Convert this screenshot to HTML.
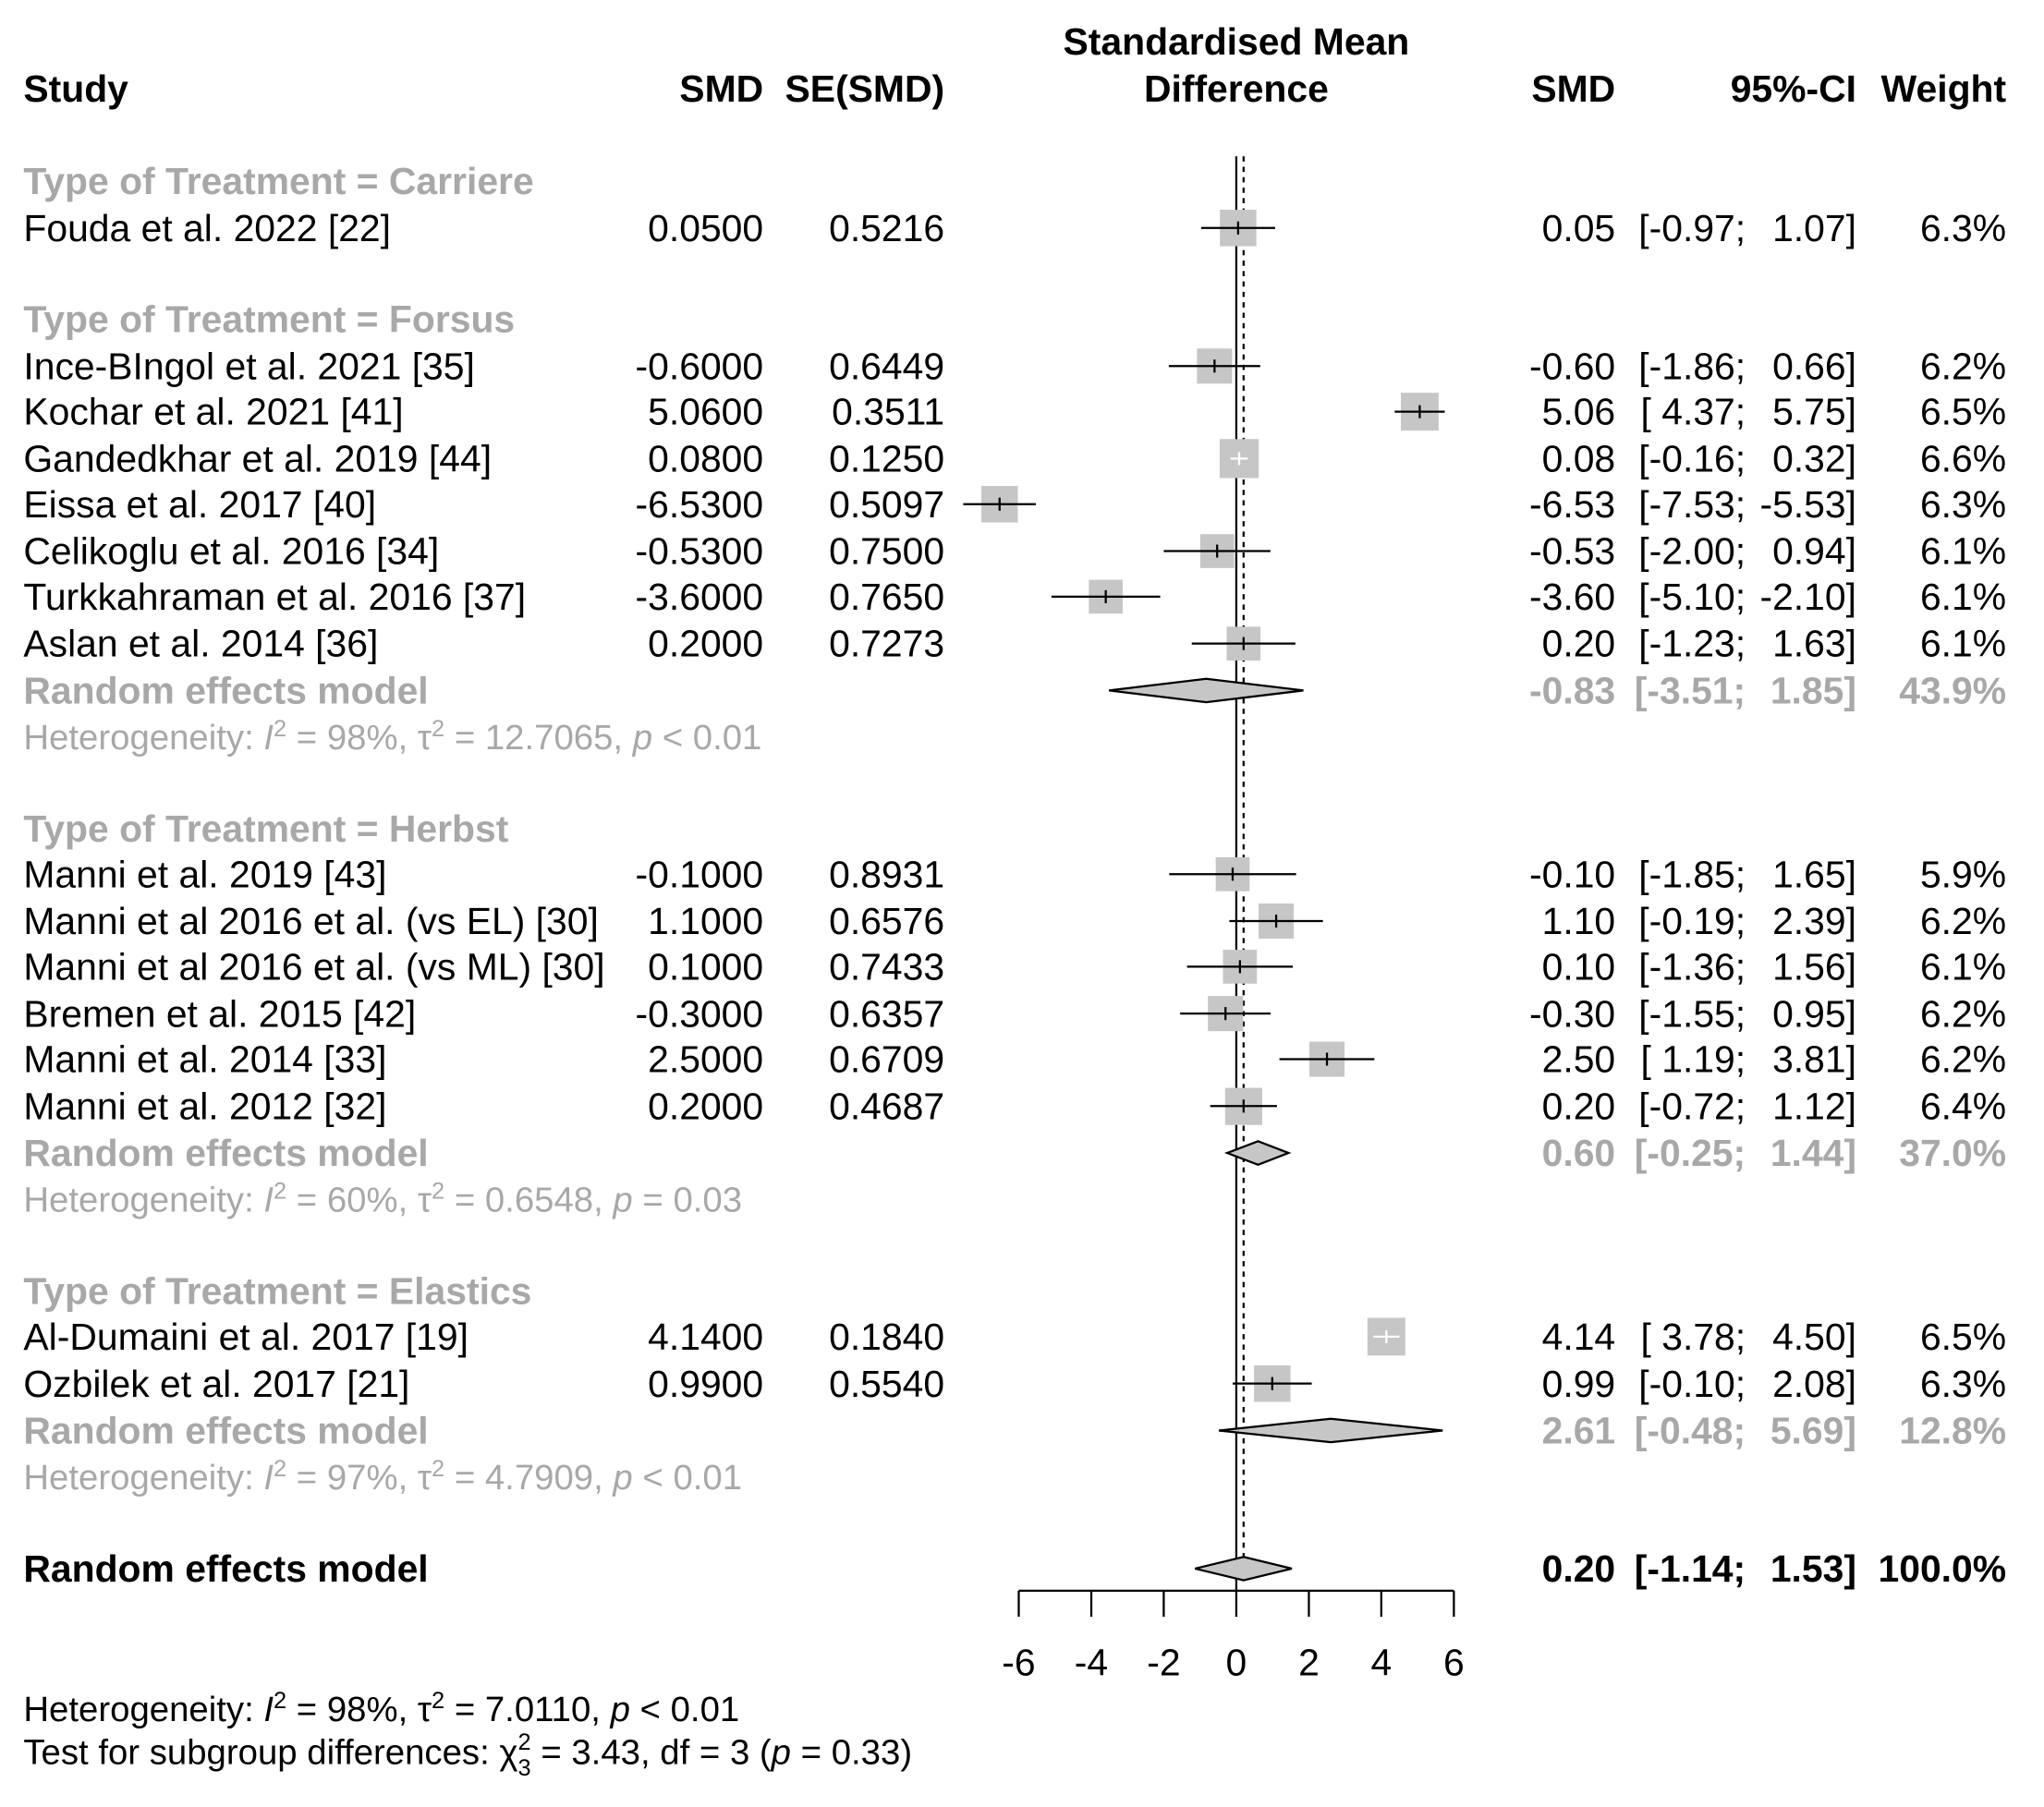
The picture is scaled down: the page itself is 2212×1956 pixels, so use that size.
<!DOCTYPE html>
<html><head><meta charset="utf-8"><style>
html,body{margin:0;padding:0;background:#fff;}
svg{display:block;}
text{font-family:"Liberation Sans",Arial,sans-serif;font-size:29px;fill:#000;}
.b{font-weight:bold;}
.g{fill:#a8a8a8;}
.r{text-anchor:end;}
.m{text-anchor:middle;}
.h{font-size:27.2px;}
</style></head><body>
<svg width="2212" height="1956" viewBox="0 0 1569 1387" preserveAspectRatio="none" xmlns="http://www.w3.org/2000/svg">
<!-- headers -->
<text class="b m" x="949" y="42">Standardised Mean</text>
<text class="b m" x="949" y="78">Difference</text>
<text class="b" x="18" y="78">Study</text>
<text class="b r" x="586" y="78">SMD</text>
<text class="b r" x="725" y="78">SE(SMD)</text>
<text class="b r" x="1240" y="78">SMD</text>
<text class="b r" x="1425" y="78">95%-CI</text>
<text class="b r" x="1540" y="78">Weight</text>

<line x1="949" y1="120" x2="949" y2="1221" stroke="#000" stroke-width="1.6"/>
<line x1="954.6" y1="120" x2="954.6" y2="1195" stroke="#000" stroke-width="1.6" stroke-dasharray="4,4"/>

<text class="b g" x="18" y="149">Type of Treatment = Carriere</text>
<text class="b g" x="18" y="255">Type of Treatment = Forsus</text>
<text class="b g" x="18" y="646">Type of Treatment = Herbst</text>
<text class="b g" x="18" y="1001">Type of Treatment = Elastics</text>

<g>
<text x="18" y="185">Fouda et al. 2022 [22]</text><text class="r" x="586" y="185">0.0500</text><text class="r" x="725" y="185">0.5216</text>
<text class="r" x="1240" y="185">0.05</text><text class="r" x="1340" y="185">[-0.97;</text><text class="r" x="1425" y="185">1.07]</text><text class="r" x="1540" y="185">6.3%</text>

<text x="18" y="291">Ince-BIngol et al. 2021 [35]</text><text class="r" x="586" y="291">-0.6000</text><text class="r" x="725" y="291">0.6449</text>
<text class="r" x="1240" y="291">-0.60</text><text class="r" x="1340" y="291">[-1.86;</text><text class="r" x="1425" y="291">0.66]</text><text class="r" x="1540" y="291">6.2%</text>

<text x="18" y="326">Kochar et al. 2021 [41]</text><text class="r" x="586" y="326">5.0600</text><text class="r" x="725" y="326">0.3511</text>
<text class="r" x="1240" y="326">5.06</text><text class="r" x="1340" y="326">[ 4.37;</text><text class="r" x="1425" y="326">5.75]</text><text class="r" x="1540" y="326">6.5%</text>

<text x="18" y="362">Gandedkhar et al. 2019 [44]</text><text class="r" x="586" y="362">0.0800</text><text class="r" x="725" y="362">0.1250</text>
<text class="r" x="1240" y="362">0.08</text><text class="r" x="1340" y="362">[-0.16;</text><text class="r" x="1425" y="362">0.32]</text><text class="r" x="1540" y="362">6.6%</text>

<text x="18" y="397">Eissa et al. 2017 [40]</text><text class="r" x="586" y="397">-6.5300</text><text class="r" x="725" y="397">0.5097</text>
<text class="r" x="1240" y="397">-6.53</text><text class="r" x="1340" y="397">[-7.53;</text><text class="r" x="1425" y="397">-5.53]</text><text class="r" x="1540" y="397">6.3%</text>

<text x="18" y="433">Celikoglu et al. 2016 [34]</text><text class="r" x="586" y="433">-0.5300</text><text class="r" x="725" y="433">0.7500</text>
<text class="r" x="1240" y="433">-0.53</text><text class="r" x="1340" y="433">[-2.00;</text><text class="r" x="1425" y="433">0.94]</text><text class="r" x="1540" y="433">6.1%</text>

<text x="18" y="468">Turkkahraman et al. 2016 [37]</text><text class="r" x="586" y="468">-3.6000</text><text class="r" x="725" y="468">0.7650</text>
<text class="r" x="1240" y="468">-3.60</text><text class="r" x="1340" y="468">[-5.10;</text><text class="r" x="1425" y="468">-2.10]</text><text class="r" x="1540" y="468">6.1%</text>

<text x="18" y="504">Aslan et al. 2014 [36]</text><text class="r" x="586" y="504">0.2000</text><text class="r" x="725" y="504">0.7273</text>
<text class="r" x="1240" y="504">0.20</text><text class="r" x="1340" y="504">[-1.23;</text><text class="r" x="1425" y="504">1.63]</text><text class="r" x="1540" y="504">6.1%</text>

<text class="b g" x="18" y="540">Random effects model</text>
<text class="b g r" x="1240" y="540">-0.83</text><text class="b g r" x="1340" y="540">[-3.51;</text><text class="b g r" x="1425" y="540">1.85]</text><text class="b g r" x="1540" y="540">43.9%</text>
<text class="g h" x="18" y="575">Heterogeneity: <tspan font-style="italic">I</tspan><tspan dy="-10" font-size="18">2</tspan><tspan dy="10"> = 98%, τ</tspan><tspan dy="-10" font-size="18">2</tspan><tspan dy="10"> = 12.7065, </tspan><tspan font-style="italic">p</tspan> &lt; 0.01</text>

<text x="18" y="681">Manni et al. 2019 [43]</text><text class="r" x="586" y="681">-0.1000</text><text class="r" x="725" y="681">0.8931</text>
<text class="r" x="1240" y="681">-0.10</text><text class="r" x="1340" y="681">[-1.85;</text><text class="r" x="1425" y="681">1.65]</text><text class="r" x="1540" y="681">5.9%</text>

<text x="18" y="717">Manni et al 2016 et al. (vs EL) [30]</text><text class="r" x="586" y="717">1.1000</text><text class="r" x="725" y="717">0.6576</text>
<text class="r" x="1240" y="717">1.10</text><text class="r" x="1340" y="717">[-0.19;</text><text class="r" x="1425" y="717">2.39]</text><text class="r" x="1540" y="717">6.2%</text>

<text x="18" y="752">Manni et al 2016 et al. (vs ML) [30]</text><text class="r" x="586" y="752">0.1000</text><text class="r" x="725" y="752">0.7433</text>
<text class="r" x="1240" y="752">0.10</text><text class="r" x="1340" y="752">[-1.36;</text><text class="r" x="1425" y="752">1.56]</text><text class="r" x="1540" y="752">6.1%</text>

<text x="18" y="788">Bremen et al. 2015 [42]</text><text class="r" x="586" y="788">-0.3000</text><text class="r" x="725" y="788">0.6357</text>
<text class="r" x="1240" y="788">-0.30</text><text class="r" x="1340" y="788">[-1.55;</text><text class="r" x="1425" y="788">0.95]</text><text class="r" x="1540" y="788">6.2%</text>

<text x="18" y="823">Manni et al. 2014 [33]</text><text class="r" x="586" y="823">2.5000</text><text class="r" x="725" y="823">0.6709</text>
<text class="r" x="1240" y="823">2.50</text><text class="r" x="1340" y="823">[ 1.19;</text><text class="r" x="1425" y="823">3.81]</text><text class="r" x="1540" y="823">6.2%</text>

<text x="18" y="859">Manni et al. 2012 [32]</text><text class="r" x="586" y="859">0.2000</text><text class="r" x="725" y="859">0.4687</text>
<text class="r" x="1240" y="859">0.20</text><text class="r" x="1340" y="859">[-0.72;</text><text class="r" x="1425" y="859">1.12]</text><text class="r" x="1540" y="859">6.4%</text>

<text class="b g" x="18" y="895">Random effects model</text>
<text class="b g r" x="1240" y="895">0.60</text><text class="b g r" x="1340" y="895">[-0.25;</text><text class="b g r" x="1425" y="895">1.44]</text><text class="b g r" x="1540" y="895">37.0%</text>
<text class="g h" x="18" y="930">Heterogeneity: <tspan font-style="italic">I</tspan><tspan dy="-10" font-size="18">2</tspan><tspan dy="10"> = 60%, τ</tspan><tspan dy="-10" font-size="18">2</tspan><tspan dy="10"> = 0.6548, </tspan><tspan font-style="italic">p</tspan> = 0.03</text>

<text x="18" y="1036">Al-Dumaini et al. 2017 [19]</text><text class="r" x="586" y="1036">4.1400</text><text class="r" x="725" y="1036">0.1840</text>
<text class="r" x="1240" y="1036">4.14</text><text class="r" x="1340" y="1036">[ 3.78;</text><text class="r" x="1425" y="1036">4.50]</text><text class="r" x="1540" y="1036">6.5%</text>

<text x="18" y="1072">Ozbilek et al. 2017 [21]</text><text class="r" x="586" y="1072">0.9900</text><text class="r" x="725" y="1072">0.5540</text>
<text class="r" x="1240" y="1072">0.99</text><text class="r" x="1340" y="1072">[-0.10;</text><text class="r" x="1425" y="1072">2.08]</text><text class="r" x="1540" y="1072">6.3%</text>

<text class="b g" x="18" y="1108">Random effects model</text>
<text class="b g r" x="1240" y="1108">2.61</text><text class="b g r" x="1340" y="1108">[-0.48;</text><text class="b g r" x="1425" y="1108">5.69]</text><text class="b g r" x="1540" y="1108">12.8%</text>
<text class="g h" x="18" y="1143">Heterogeneity: <tspan font-style="italic">I</tspan><tspan dy="-10" font-size="18">2</tspan><tspan dy="10"> = 97%, τ</tspan><tspan dy="-10" font-size="18">2</tspan><tspan dy="10"> = 4.7909, </tspan><tspan font-style="italic">p</tspan> &lt; 0.01</text>

<text class="b" x="18" y="1214">Random effects model</text>
<text class="b r" x="1240" y="1214">0.20</text><text class="b r" x="1340" y="1214">[-1.14;</text><text class="b r" x="1425" y="1214">1.53]</text><text class="b r" x="1540" y="1214">100.0%</text>

<text class="h" x="18" y="1321">Heterogeneity: <tspan font-style="italic">I</tspan><tspan dy="-10" font-size="18">2</tspan><tspan dy="10"> = 98%, τ</tspan><tspan dy="-10" font-size="18">2</tspan><tspan dy="10"> = 7.0110, </tspan><tspan font-style="italic">p</tspan> &lt; 0.01</text>
<text class="h" x="18" y="1354">Test for subgroup differences: χ<tspan dy="-11" font-size="18">2</tspan><tspan dx="-10" dy="20" font-size="18">3</tspan><tspan dy="-9"> = 3.43, df = 3 (</tspan><tspan font-style="italic">p</tspan> = 0.33)</text>
</g>

<g fill="#c6c6c6">
<rect x="936.4" y="161" width="28" height="28"/>
<rect x="918.8" y="267.5" width="27" height="27"/>
<rect x="1075.3" y="301.5" width="29" height="29"/>
<rect x="936.2" y="337" width="30" height="30"/>
<rect x="753.3" y="373" width="28" height="28"/>
<rect x="921.3" y="410" width="26" height="26"/>
<rect x="835.8" y="445" width="26" height="26"/>
<rect x="941.6" y="481" width="26" height="26"/>
<rect x="933.2" y="658" width="26" height="26"/>
<rect x="966.1" y="693.5" width="27" height="27"/>
<rect x="938.8" y="729" width="26" height="26"/>
<rect x="927.2" y="764.5" width="27" height="27"/>
<rect x="1005.1" y="799.5" width="27" height="27"/>
<rect x="940.4" y="835" width="28.5" height="28.5"/>
<rect x="1049.7" y="1011.5" width="29" height="29"/>
<rect x="962.6" y="1048" width="28" height="28"/>
</g>
<g stroke="#000" stroke-width="1.6">
<line x1="922" y1="175" x2="978.8" y2="175"/><line x1="950.4" y1="170" x2="950.4" y2="180"/>
<line x1="897.2" y1="281" x2="967.4" y2="281"/><line x1="932.3" y1="276" x2="932.3" y2="286"/>
<line x1="1070.6" y1="316" x2="1109" y2="316"/><line x1="1089.8" y1="311" x2="1089.8" y2="321"/>
<line x1="739.4" y1="387" x2="795.1" y2="387"/><line x1="767.3" y1="382" x2="767.3" y2="392"/>
<line x1="893.3" y1="423" x2="975.2" y2="423"/><line x1="934.3" y1="418" x2="934.3" y2="428"/>
<line x1="807.1" y1="458" x2="890.6" y2="458"/><line x1="848.8" y1="453" x2="848.8" y2="463"/>
<line x1="914.8" y1="494" x2="994.4" y2="494"/><line x1="954.6" y1="489" x2="954.6" y2="499"/>
<line x1="897.5" y1="671" x2="994.9" y2="671"/><line x1="946.2" y1="666" x2="946.2" y2="676"/>
<line x1="943.7" y1="707" x2="1015.5" y2="707"/><line x1="979.6" y1="702" x2="979.6" y2="712"/>
<line x1="911.2" y1="742" x2="992.4" y2="742"/><line x1="951.8" y1="737" x2="951.8" y2="747"/>
<line x1="905.9" y1="778" x2="975.4" y2="778"/><line x1="940.7" y1="773" x2="940.7" y2="783"/>
<line x1="982.1" y1="813" x2="1055" y2="813"/><line x1="1018.6" y1="808" x2="1018.6" y2="818"/>
<line x1="929" y1="849" x2="980.2" y2="849"/><line x1="954.6" y1="844" x2="954.6" y2="854"/>
<line x1="946.2" y1="1062" x2="1006.9" y2="1062"/><line x1="976.6" y1="1057" x2="976.6" y2="1067"/>
</g>
<g stroke="#fff" stroke-width="1.6">
<line x1="944.5" y1="352" x2="957.9" y2="352"/><line x1="951.2" y1="347" x2="951.2" y2="357"/>
<line x1="1054.2" y1="1026" x2="1074.2" y2="1026"/><line x1="1064.2" y1="1021" x2="1064.2" y2="1031"/>
</g>
<g fill="#c6c6c6" stroke="#000" stroke-width="1.6">
<polygon points="851.3,530 925.9,521 1000.5,530 925.9,539"/>
<polygon points="942,885 965.7,876 989.1,885 965.7,894"/>
<polygon points="935.6,1098 1021.6,1089 1107.4,1098 1021.6,1107"/>
<polygon points="917.3,1204 954.6,1195 991.6,1204 954.6,1213"/>
</g>
<g stroke="#000" stroke-width="1.6">
<line x1="782" y1="1221" x2="1116" y2="1221"/>
<line x1="782" y1="1221" x2="782" y2="1241"/>
<line x1="837.7" y1="1221" x2="837.7" y2="1241"/>
<line x1="893.3" y1="1221" x2="893.3" y2="1241"/>
<line x1="949" y1="1221" x2="949" y2="1241"/>
<line x1="1004.7" y1="1221" x2="1004.7" y2="1241"/>
<line x1="1060.3" y1="1221" x2="1060.3" y2="1241"/>
<line x1="1116" y1="1221" x2="1116" y2="1241"/>
</g>
<text class="m" x="782" y="1286">-6</text>
<text class="m" x="837.7" y="1286">-4</text>
<text class="m" x="893.3" y="1286">-2</text>
<text class="m" x="949" y="1286">0</text>
<text class="m" x="1004.7" y="1286">2</text>
<text class="m" x="1060.3" y="1286">4</text>
<text class="m" x="1116" y="1286">6</text>
</svg>
</body></html>
